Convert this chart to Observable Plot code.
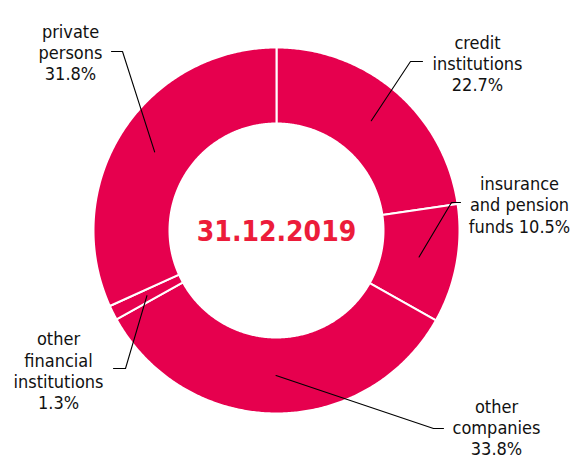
<!DOCTYPE html>
<html><head><meta charset="utf-8">
<script src="https://cdn.jsdelivr.net/npm/d3@7"></script>
<script src="https://cdn.jsdelivr.net/npm/@observablehq/plot@0.6"></script>
<style>html,body{margin:0;padding:0;background:#fff}</style>
</head><body><div id="chart"></div>
<script>
// ---- data ----
const categories = ["credit institutions", "insurance and pension funds", "other companies", "other financial institutions", "private persons"];
const shares = [22.7, 10.5, 33.8, 1.3, 31.8];
const labelText = ["credit\ninstitutions\n22.7%", "insurance\nand pension\nfunds 10.5%", "other\ncompanies\n33.8%", "other\nfinancial\ninstitutions\n1.3%", "private\npersons\n31.8%"];
const centerTitle = "31.12.2019";

// ---- layout (pixel offsets from donut centre, y down) ----
const W = 570, H = 458, CX = 276, CY = 230, R = 183, R0 = 107;
const labelLayout = [
  {text: [201, -167.5], from: [146, -169], elbow: [134, -169]},
  {text: [243, -26],    from: [184, -28],  elbow: [175, -28]},
  {text: [220, 196.5],  from: [167, 198],  elbow: [157, 198]},
  {text: [-218, 140],   from: [-163, 138], elbow: [-151, 138]},
  {text: [-206, -178.5],from: [-165, -179],elbow: [-154, -179]}
];
const COLOR = "#e6004e";

const u = ([dx, dy]) => ({x: dx / R, y: -dy / R});
const pie = d3.pie().sort(null).value(d => d)(shares);
const ri = R0 / R, rm = (1 + ri) / 2;
const slicePts = [];
pie.forEach((p, i) => {
  const n = Math.max(2, Math.ceil((p.endAngle - p.startAngle) / (Math.PI / 360)));
  for (let k = 0; k <= n; k++) {
    const a = p.startAngle + (p.endAngle - p.startAngle) * k / n;
    slicePts.push({name: categories[i], x: Math.sin(a), y: Math.cos(a)});
  }
  for (let k = n; k >= 0; k--) {
    const a = p.startAngle + (p.endAngle - p.startAngle) * k / n;
    slicePts.push({name: categories[i], x: ri * Math.sin(a), y: ri * Math.cos(a)});
  }
});
const leaderPts = [];
const labelRows = [];
pie.forEach((p, i) => {
  const a = (p.startAngle + p.endAngle) / 2;
  const L = labelLayout[i];
  leaderPts.push({name: categories[i], ...u(L.from)});
  leaderPts.push({name: categories[i], ...u(L.elbow)});
  leaderPts.push({name: categories[i], x: rm * Math.sin(a), y: rm * Math.cos(a)});
  labelRows.push({text: labelText[i], ...u(L.text)});
});

const chart = Plot.plot({
  width: W, height: H, margin: 0,
  x: {domain: [-CX / R, (W - CX) / R], axis: null},
  y: {domain: [-(H - CY) / R, CY / R], axis: null},
  style: {fontFamily: "'DejaVu Sans Condensed', 'DejaVu Sans', sans-serif", background: "#fff"},
  marks: [
    Plot.line(slicePts, {x: "x", y: "y", z: "name", fill: COLOR, stroke: "#fff", strokeWidth: 2, curve: "linear-closed"}),
    Plot.line(leaderPts, {x: "x", y: "y", z: "name", stroke: "#000", strokeWidth: 1.1}),
    Plot.text(labelRows, {x: "x", y: "y", text: "text", fontSize: 18, lineHeight: 1.18, textAnchor: "middle", lineAnchor: "middle", fill: "#111"}),
    Plot.text([{x: 0, y: 0, text: centerTitle}], {x: "x", y: "y", text: "text", fontSize: 28, fontWeight: "bold", fill: "#ec1c3a", textAnchor: "middle", lineAnchor: "middle", dy: 2})
  ]
});
document.getElementById("chart").appendChild(chart);
</script>
</body></html>
